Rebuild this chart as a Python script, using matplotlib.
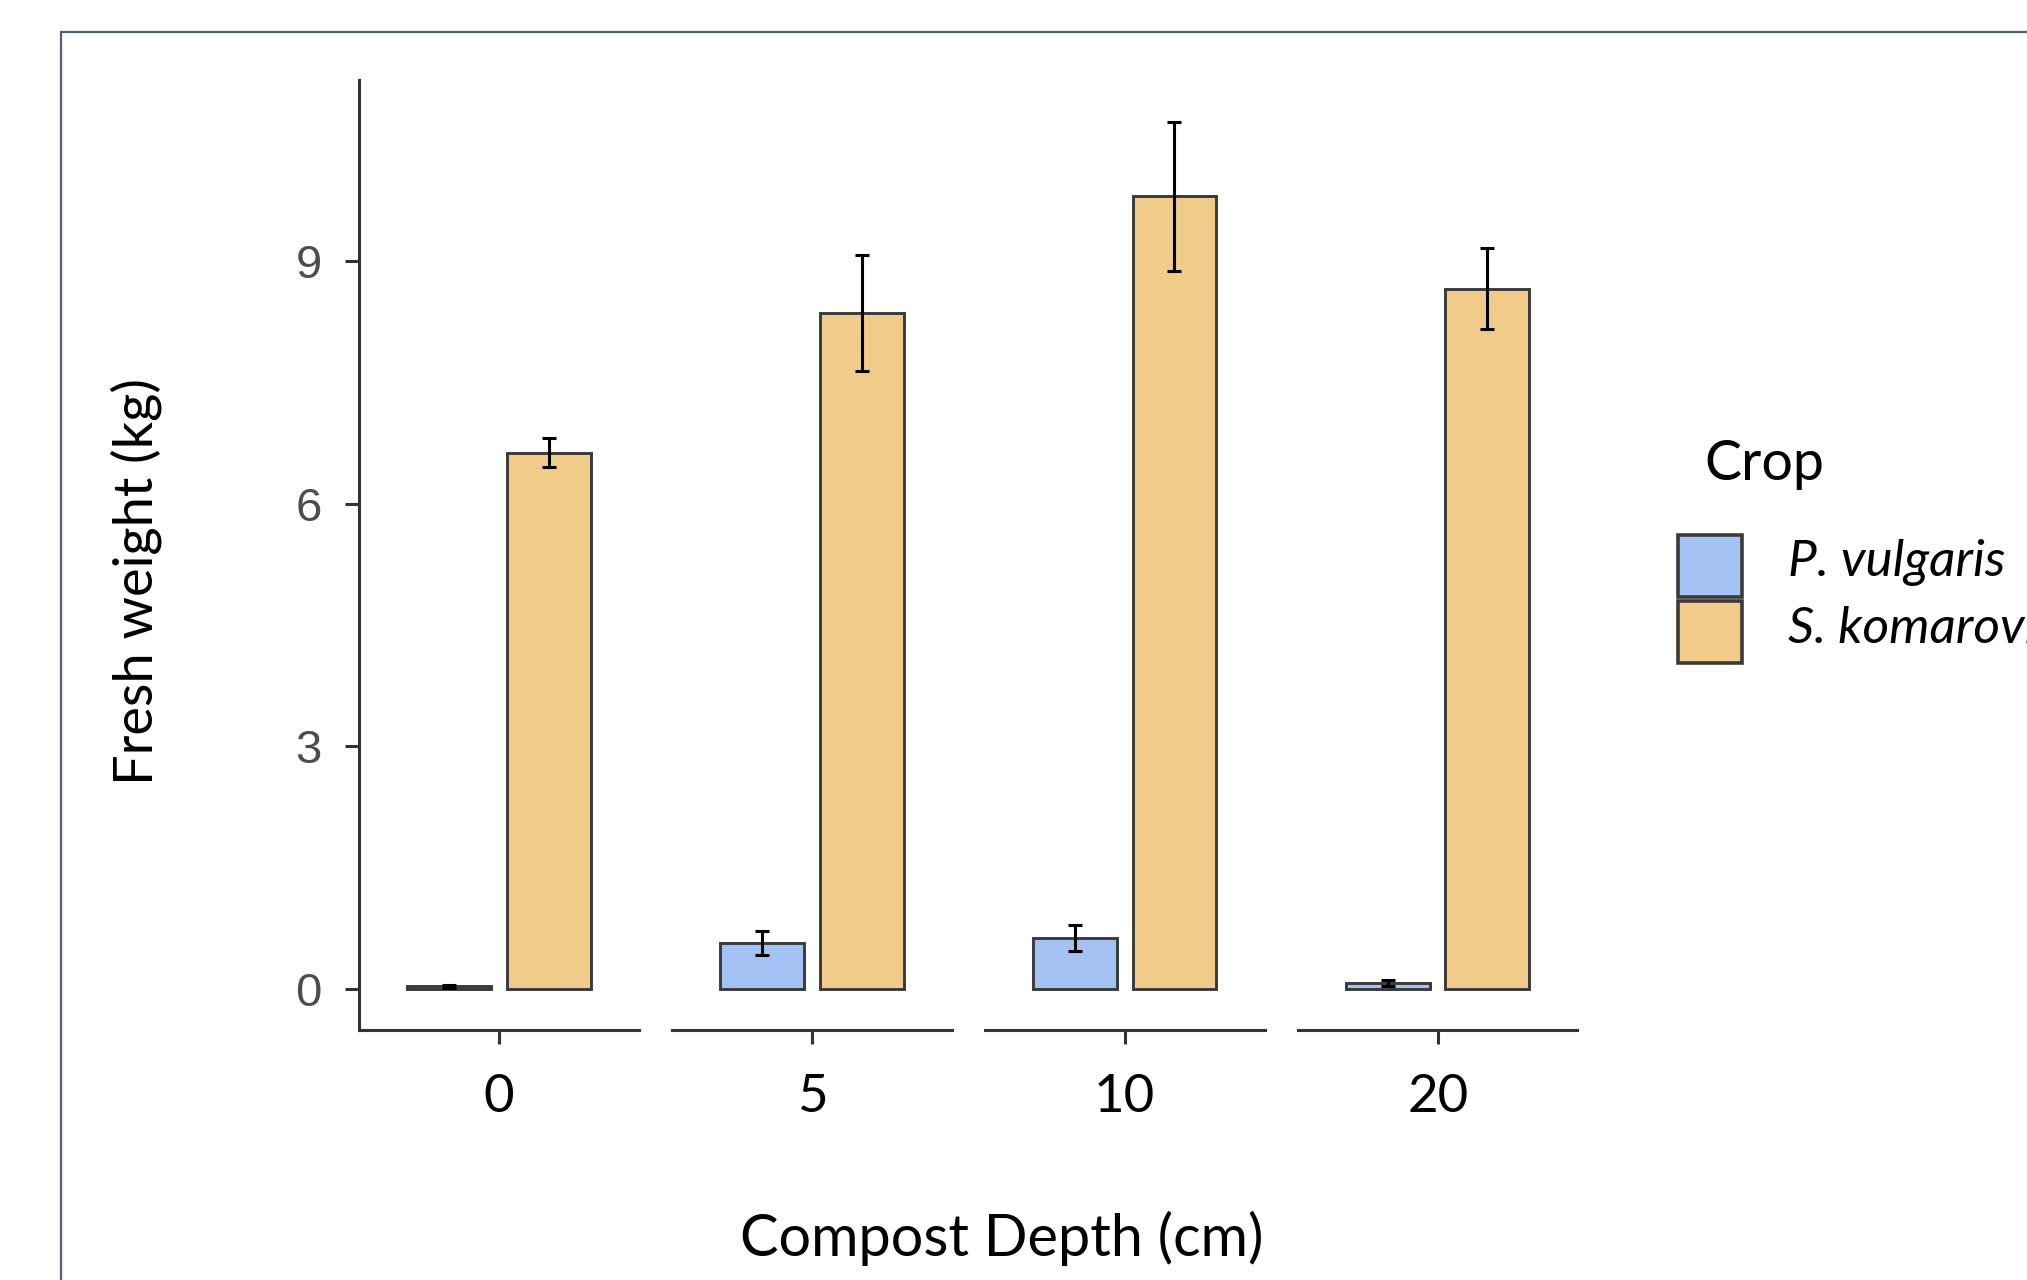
import matplotlib
matplotlib.use('Agg')
import matplotlib.pyplot as plt
from matplotlib.patches import Rectangle

# data
depths = ['0', '5', '10', '20']
crops = ['P. vulgaris', 'S. komarovii']
vulgaris_mean = [0.03, 0.57, 0.63, 0.07]
vulgaris_se = [0.02, 0.15, 0.16, 0.04]
komarovii_mean = [6.63, 8.36, 9.80, 8.66]
komarovii_se = [0.18, 0.72, 0.92, 0.50]
yticks = [0, 3, 6, 9]

colors = ['#a4c2f4', '#f0cb8a']
edge = '#3a3a3a'
axis_col = '#333333'
font = 'Lato'

W, H = 2027, 1280
fig = plt.figure(figsize=(W / 100, H / 100), dpi=100)


def fx(px):
    return px / W


def fy(py):
    return 1 - py / H


# one panel per compost depth (facets without strips)
panel_left = [359.4, 672.2, 985.0, 1297.9]
panel_w = 279.5
top, bottom = 80, 1030

for i, d in enumerate(depths):
    ax = fig.add_axes([fx(panel_left[i]), fy(bottom), panel_w / W, (bottom - top) / H])
    means = [vulgaris_mean[i], komarovii_mean[i]]
    errs = [vulgaris_se[i], komarovii_se[i]]
    xs = [-0.2135, 0.2135]
    ax.bar(xs, means, width=0.36, color=colors, edgecolor=edge, linewidth=2.1, zorder=2)
    ax.errorbar(xs, means, yerr=errs, fmt='none', ecolor='black',
                elinewidth=2.2, capsize=4.7, capthick=2.2, zorder=3)
    ax.set_xlim(-0.6, 0.6)
    ax.set_ylim(-0.51, 11.24)
    ax.set_xticks([0])
    ax.set_xticklabels([d], fontfamily=font, fontsize=38, color='black')
    ax.tick_params(axis='x', length=10, width=2.2, color=axis_col, pad=22)
    for s in ['top', 'right']:
        ax.spines[s].set_visible(False)
    ax.spines['bottom'].set_color(axis_col)
    ax.spines['bottom'].set_linewidth(2.2)
    if i == 0:
        ax.spines['left'].set_color(axis_col)
        ax.spines['left'].set_linewidth(2.2)
        ax.set_yticks(yticks)
        ax.set_yticklabels([str(t) for t in yticks], fontfamily='Liberation Sans',
                           fontsize=34, color='#4d4d4d')
        ax.tick_params(axis='y', length=10, width=2.2, color=axis_col, pad=17)
    else:
        ax.spines['left'].set_visible(False)
        ax.set_yticks([])
    ax.patch.set_alpha(0)

# axis titles
fig.text(fx(1002), fy(1238), 'Compost Depth (cm)', ha='center', va='center',
         fontfamily=font, fontsize=41.5, color='black')
fig.text(fx(136), fy(582), 'Fresh weight (kg)', ha='center', va='center',
         rotation=90, fontfamily=font, fontsize=39, color='black')

# legend
fig.text(fx(1704), fy(465), 'Crop', ha='left', va='center',
         fontfamily=font, fontsize=40, color='black')
key_tops = [535, 601]
for c, lab, kt in zip(colors, crops, key_tops):
    fig.add_artist(Rectangle((fx(1678), fy(kt + 62)), 64 / W, 62 / H,
                             transform=fig.transFigure, facecolor=c,
                             edgecolor=edge, linewidth=2.6))
    fig.text(fx(1788), fy(kt + 28), lab, ha='left', va='center',
             fontfamily=font, fontstyle='italic', fontsize=37, color='black')

# outer frame of the slide
fig.add_artist(Rectangle((fx(61), -0.1), 1.0, fy(32) + 0.1,
                         transform=fig.transFigure, fill=False,
                         edgecolor='#50607c', linewidth=1.6))

fig.savefig('out.png', dpi=100)
